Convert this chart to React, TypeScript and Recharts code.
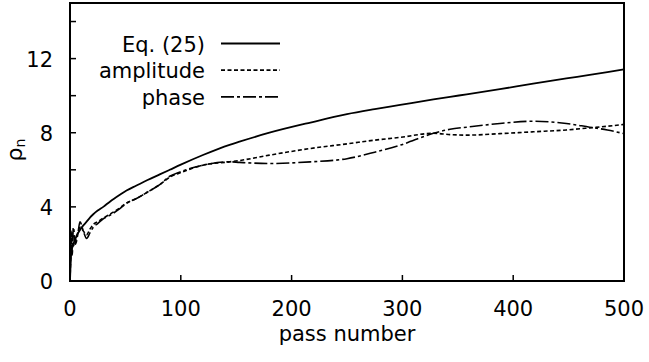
import React from 'react';
import { LineChart, Line, XAxis, YAxis, Legend, ReferenceArea } from 'recharts';

const passNumber = [0, 1, 2, 3, 5, 7, 9, 12, 15, 18, 21, 25, 30, 36, 45, 51, 60, 70, 81, 90, 100, 120, 144, 153, 180, 217, 250, 275, 298, 328, 343, 358, 388, 418, 448, 469, 485, 500];
const eq25 = [0, 1.4, 1.8, 2.0, 2.3, 2.55, 2.75, 3.0, 3.2, 3.42, 3.6, 3.8, 4.0, 4.28, 4.65, 4.88, 5.15, 5.45, 5.75, 6.0, 6.28, 6.8, 7.35, 7.52, 8.0, 8.55, 9.0, 9.27, 9.5, 9.8, 9.94, 10.07, 10.35, 10.65, 10.93, 11.12, 11.27, 11.42];
const amplitude = [0, 1.8, 2.6, 1.9, 2.2, 2.6, 2.9, 2.7, 2.5, 2.8, 3.05, 3.2, 3.4, 3.6, 3.95, 4.2, 4.45, 4.8, 5.2, 5.6, 5.85, 6.25, 6.43, 6.5, 6.79, 7.15, 7.4, 7.6, 7.75, 7.97, 7.9, 7.87, 7.95, 8.05, 8.15, 8.26, 8.35, 8.45];
const phase = [0, 2.7, 1.4, 2.9, 2.0, 2.5, 3.2, 2.7, 2.3, 2.6, 2.9, 3.1, 3.35, 3.55, 3.9, 4.2, 4.45, 4.8, 5.2, 5.65, 5.9, 6.25, 6.43, 6.4, 6.34, 6.43, 6.6, 6.95, 7.33, 7.97, 8.19, 8.3, 8.5, 8.62, 8.5, 8.3, 8.15, 7.95];

const seriesNames = ['Eq. (25)', 'amplitude', 'phase'];
const xTicks = [0, 100, 200, 300, 400, 500];
const yTicks = [0, 2, 4, 6, 8, 10, 12, 14];
const yLabelTicks = [0, 4, 8, 12];
const xMax = 500;
const yMax = 15;

const data = passNumber.map((n, i) => ({ n, eq: eq25[i], amp: amplitude[i], ph: phase[i] }));

const FONT = 'DejaVu Sans';
const dashes = ['', '4 2.5', '13 3 3 3'];
const TL = 6;

const BottomTick = (p: any) => {
  const { x, y, payload } = p;
  return (
    <g>
      <line x1={x} y1={y} x2={x} y2={y - TL} stroke="#000" strokeWidth={1.5} />
      <text x={x} y={y + 35} textAnchor="middle" fontFamily={FONT} fontSize={21} fill="#000">{payload.value}</text>
    </g>
  );
};
const TopTick = (p: any) => {
  const { x, y } = p;
  return <line x1={x} y1={y} x2={x} y2={y + TL - 1} stroke="#000" strokeWidth={1.5} />;
};
const LeftTick = (p: any) => {
  const { x, y, payload } = p;
  return (
    <g>
      <line x1={x} y1={y} x2={x + TL} y2={y} stroke="#000" strokeWidth={1.5} />
      {yLabelTicks.includes(payload.value) && (
        <text x={x - 17} y={y + 8} textAnchor="end" fontFamily={FONT} fontSize={21} fill="#000">{payload.value}</text>
      )}
    </g>
  );
};
const RightTick = (p: any) => {
  const { x, y } = p;
  return <line x1={x} y1={y} x2={x - TL} y2={y} stroke="#000" strokeWidth={1.5} />;
};

const XLabel = (p: any) => {
  const vb = p.viewBox || {};
  return (
    <text x={vb.x + vb.width / 2} y={vb.y + 60} textAnchor="middle" fontFamily={FONT} fontSize={21} fill="#000">pass number</text>
  );
};
const YLabel = () => (
  <text transform="translate(22,150) rotate(-90)" textAnchor="middle" fontFamily={FONT} fontSize={22} fill="#000">
    ρ<tspan fontSize={14} dy={3}>n</tspan>
  </text>
);

const renderLegend = (props: any) => {
  const payload = props.payload || [];
  return (
    <svg width={300} height={120} style={{ display: 'block' }}>
      {payload.map((e: any, i: number) => {
        const yy = 43.5 + i * 26.7;
        return (
          <g key={i}>
            <text x={205} y={yy + 8} textAnchor="end" fontFamily={FONT} fontSize={21} fill="#000">{e.value}</text>
            <line x1={221} x2={280} y1={yy} y2={yy} stroke="#000" strokeWidth={1.8} strokeDasharray={dashes[i] || undefined} />
          </g>
        );
      })}
    </svg>
  );
};

export default function App() {
  return (
    <div style={{ position: 'absolute', left: 0, top: 0, width: 649, height: 362, background: '#fff' }}>
      <LineChart width={649} height={362} data={data} margin={{ top: 3, right: 25, left: 0, bottom: 0 }}>
        <XAxis xAxisId="b" dataKey="n" type="number" domain={[0, xMax]} ticks={xTicks} orientation="bottom" height={81}
          tickSize={0} tickMargin={0} tickLine={false} axisLine={{ stroke: '#000', strokeWidth: 1.6 }} tick={<BottomTick />}
          label={<XLabel />} allowDataOverflow interval={0} />
        <XAxis xAxisId="t" dataKey="n" type="number" domain={[0, xMax]} ticks={xTicks} orientation="top" height={0}
          tickSize={0} tickMargin={0} tickLine={false} axisLine={false} tick={<TopTick />}
          allowDataOverflow interval={0} />
        <YAxis yAxisId="l" type="number" domain={[0, yMax]} ticks={yTicks} orientation="left" width={70}
          tickSize={0} tickMargin={0} tickLine={false} axisLine={{ stroke: '#000', strokeWidth: 1.6 }} tick={<LeftTick />}
          label={<YLabel />} allowDataOverflow interval={0} />
        <YAxis yAxisId="r" type="number" domain={[0, yMax]} ticks={yTicks} orientation="right" width={0}
          tickSize={0} tickMargin={0} tickLine={false} axisLine={{ stroke: '#000', strokeWidth: 1.6 }} tick={<RightTick />}
          allowDataOverflow interval={0} />
        <ReferenceArea xAxisId="b" yAxisId="l" x1={0} x2={xMax} y1={0} y2={yMax} fill="#fff" fillOpacity={0}
          stroke="#000" strokeOpacity={1} strokeWidth={2} ifOverflow="visible" />
        <Legend layout="horizontal" verticalAlign="middle" align="center" content={renderLegend}
          wrapperStyle={{ position: 'absolute', left: 0, top: 0, width: 300, height: 120 }} />
        <Line xAxisId="b" yAxisId="l" dataKey="eq" name={seriesNames[0]} stroke="#000" strokeWidth={1.8} dot={false} isAnimationActive={false} type="monotone" />
        <Line xAxisId="b" yAxisId="l" dataKey="amp" name={seriesNames[1]} stroke="#000" strokeWidth={1.6} strokeDasharray={dashes[1]} dot={false} isAnimationActive={false} type="monotone" />
        <Line xAxisId="b" yAxisId="l" dataKey="ph" name={seriesNames[2]} stroke="#000" strokeWidth={1.6} strokeDasharray={dashes[2]} dot={false} isAnimationActive={false} type="monotone" />
      </LineChart>
    </div>
  );
}
